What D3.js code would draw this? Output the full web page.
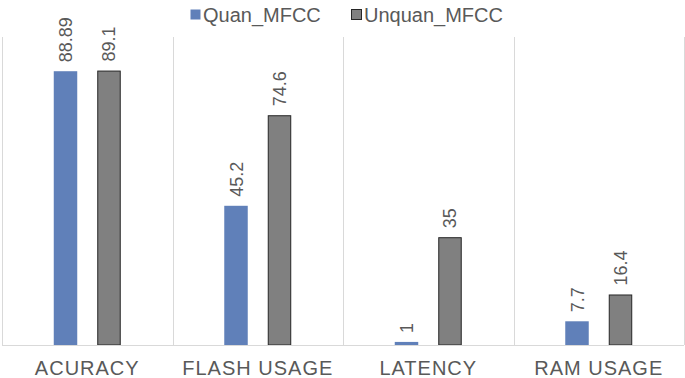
<!DOCTYPE html>
<html>
<head>
<meta charset="utf-8">
<script src="https://cdn.jsdelivr.net/npm/d3@7"></script>
<style>
  html, body { margin: 0; padding: 0; background: #fff; }
  svg { display: block; font-family: "Liberation Sans", Arial, sans-serif; }
</style>
</head>
<body>
<svg id="chart" width="685" height="378"></svg>
<script>
const categories = ["ACURACY", "FLASH USAGE", "LATENCY", "RAM USAGE"];
const series = ["Quan_MFCC", "Unquan_MFCC"];
const quanValues = [88.89, 45.2, 1, 7.7];
const unquanValues = [89.1, 74.6, 35, 16.4];
const valueLabels = [["88.89", "89.1"], ["45.2", "74.6"], ["1", "35"], ["7.7", "16.4"]];
const yDomain = [0, 100];

const colors = { "Quan_MFCC": "#6080b9", "Unquan_MFCC": "#808080" };
const strokes = { "Quan_MFCC": "none", "Unquan_MFCC": "#262626" };

const svg = d3.select("#chart");
const mLeft = 2, mRight = 684, mTop = 37, mBottom = 345;

const x0 = d3.scaleBand().domain(categories).range([mLeft, mRight]).padding(0);
const x1 = d3.scaleBand().domain(series).range([0, x0.bandwidth()])
  .paddingInner(0.46).paddingOuter(1.19);
const y = d3.scaleLinear().domain(yDomain).range([mBottom, mTop]);

// vertical separators
const bounds = categories.map(c => x0(c)).concat([mRight]);
svg.append("g").selectAll("line").data(bounds).join("line")
  .attr("x1", d => Math.round(d) + 0.5).attr("x2", d => Math.round(d) + 0.5)
  .attr("y1", mTop).attr("y2", mBottom)
  .attr("stroke", "#d9d9d9").attr("stroke-width", 1);

const data = categories.map((c, i) => ({
  cat: c,
  vals: [
    { s: series[0], v: quanValues[i], label: valueLabels[i][0] },
    { s: series[1], v: unquanValues[i], label: valueLabels[i][1] }
  ]
}));

const groups = svg.append("g").selectAll("g").data(data).join("g")
  .attr("transform", d => `translate(${x0(d.cat)},0)`);

groups.selectAll("rect").data(d => d.vals).join("rect")
  .attr("x", d => x1(d.s) + (strokes[d.s] === "none" ? 0 : 0.5))
  .attr("y", d => y(d.v) + (strokes[d.s] === "none" ? 0 : 0.5))
  .attr("width", d => x1.bandwidth() - (strokes[d.s] === "none" ? 0 : 1))
  .attr("height", d => mBottom - y(d.v) - (strokes[d.s] === "none" ? 0 : 0.5))
  .attr("fill", d => colors[d.s])
  .attr("stroke", d => strokes[d.s])
  .attr("stroke-width", 1);

groups.selectAll("text").data(d => d.vals).join("text")
  .attr("transform", d => `translate(${x1(d.s) + x1.bandwidth() / 2 + 6.5},${y(d.v) - 9}) rotate(-90)`)
  .attr("text-anchor", "start")
  .attr("fill", "#595959")
  .attr("font-size", 18)
  .text(d => d.label);

// baseline
svg.append("line")
  .attr("x1", mLeft).attr("x2", mRight)
  .attr("y1", mBottom + 0.5).attr("y2", mBottom + 0.5)
  .attr("stroke", "#d9d9d9").attr("stroke-width", 1);

// category axis labels
const xAxis = d3.axisBottom(x0).tickSize(0).tickPadding(0);
const ax = svg.append("g").attr("transform", `translate(0,${mBottom})`).call(xAxis);
ax.select(".domain").remove();
ax.selectAll("text")
  .attr("y", 30)
  .attr("dy", 0)
  .attr("fill", "#595959")
  .attr("font-size", 20)
  .attr("letter-spacing", "1px")
  .attr("font-family", "Liberation Sans, Arial, sans-serif");

// legend
const legendItems = [
  { s: series[0], x: 190 },
  { s: series[1], x: 351 }
];
const lg = svg.append("g");
legendItems.forEach(it => {
  lg.append("rect")
    .attr("x", it.x + 0.5).attr("y", 9.5)
    .attr("width", 10).attr("height", 10)
    .attr("fill", colors[it.s])
    .attr("stroke", strokes[it.s] === "none" ? "none" : "#262626");
  lg.append("text")
    .attr("x", it.x + 13).attr("y", 22)
    .attr("fill", "#595959")
    .attr("font-size", 20)
    .text(it.s);
});
</script>
</body>
</html>
